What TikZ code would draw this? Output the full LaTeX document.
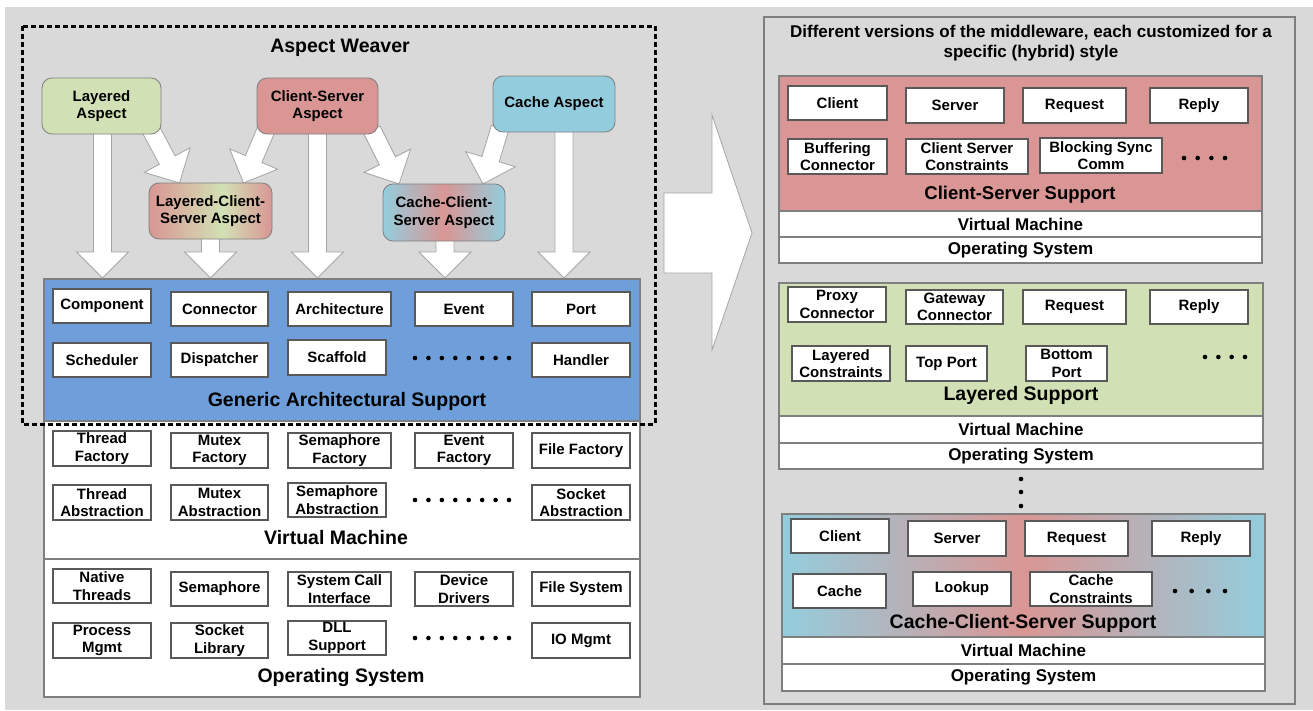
\documentclass[tikz,border=0pt]{standalone}
\usepackage{fontspec}
\setmainfont{Liberation Sans}
\usetikzlibrary{calc}
\definecolor{bg}{HTML}{D9D9D9}
\definecolor{lgreen}{HTML}{D2E1B5}
\definecolor{lred}{HTML}{D99694}
\definecolor{lblue}{HTML}{93CDDD}
\definecolor{gblue}{HTML}{6E9FDA}
\definecolor{edge}{HTML}{595959}
\definecolor{pedge}{HTML}{7F7F7F}
\pgfdeclarehorizontalshading{lcsshade}{100bp}{color(0bp)=(lred); color(25bp)=(lred); color(55bp)=(lgreen); color(75bp)=(lred); color(100bp)=(lred)}
\pgfdeclarehorizontalshading{ccsshade}{100bp}{color(0bp)=(lblue); color(25bp)=(lblue); color(50bp)=(lred); color(75bp)=(lblue); color(100bp)=(lblue)}
\tikzset{
 txt/.style={font=\fontsize{15}{17.5}\selectfont\bfseries, align=center},
 wbox/.style={txt, draw=edge, line width=1.3pt, fill=white, inner sep=0pt, outer sep=0pt},
 abox/.style={txt, draw=pedge, line width=0.8pt, rounded corners=10pt, inner sep=0pt, outer sep=0pt},
 panel/.style={draw=pedge, line width=1.5pt, inner sep=0pt, outer sep=0pt, font=\fontsize{17}{20}\selectfont\bfseries},
 bigtxt/.style={font=\fontsize{19.5}{22}\selectfont\bfseries, inner sep=0pt},
 midtxt/.style={font=\fontsize{17}{20.5}\selectfont\bfseries, align=center, inner sep=0pt},
 barrow/.style={draw=pedge!70, fill=white, line width=0.8pt, line join=miter},
 dotfill/.style={fill=black},
}
\newcommand\bx[7][wbox]{\node[#1, minimum width={#5-#3}, minimum height={#6-#4}] (#2) at ({(#3+#5)/2},{(#4+#6)/2}) {#7};}
\newcommand\dotrow[4]{\foreach \i in {1,...,#4} {\fill[dotfill] ({#1+(\i-1)*(#2-#1)/(#4-1)},#3) circle (2.3pt);}}
\newcommand\blockarr[2]{%
 \coordinate (ba-s) at #1; \coordinate (ba-t) at #2;
 \coordinate (ba-h) at ($(ba-t)!26pt!(ba-s)$);
 \draw[barrow] ($(ba-s)!9pt!90:(ba-t)$) -- ($(ba-h)!9pt!90:(ba-t)$) -- ($(ba-h)!26pt!90:(ba-t)$) -- (ba-t) -- ($(ba-h)!26pt!-90:(ba-t)$) -- ($(ba-h)!9pt!-90:(ba-t)$) -- ($(ba-s)!9pt!-90:(ba-t)$) -- cycle;}
\begin{document}
\begin{tikzpicture}[x=1pt,y=-1pt]
\useasboundingbox (0,0) rectangle (1313,710);
\fill[white] (0,0) rectangle (1313,710);
\fill[bg] (5,7) rectangle (1313,710);

% ---------------- left: panels ----------------
\bx[panel,fill=gblue]{gas}{44}{279}{640}{421}{}
\bx[panel,fill=white]{vm}{44}{421}{640}{559}{}
\bx[panel,fill=white]{os}{44}{559}{640}{697}{}
\node[bigtxt] (gast) at (347,401) {Generic Architectural Support};
\node[bigtxt] (vmt) at (336,538) {Virtual Machine};
\node[bigtxt] (ost) at (341,677) {Operating System};
\node[bigtxt] (awt) at (340,48) {Aspect Weaver};

% generic architectural support
\bx{comp}{53}{289}{151}{323}{Component}
\bx{conn}{171}{292}{268}{326}{Connector}
\bx{arch}{288}{292}{391}{326}{Architecture}
\bx{evt}{415}{292}{513}{326}{Event}
\bx{port}{532}{292}{630}{326}{Port}
\bx{sched}{53}{343}{151}{377}{Scheduler}
\bx{disp}{171}{343}{268}{377}{Dispatcher}
\bx{scaf}{288}{340}{386}{375}{Scaffold}
\dotrow{415}{509}{358}{8}
\bx{hand}{532}{343}{630}{377}{Handler}

% virtual machine
\bx{tf}{53}{431}{151}{466}{Thread\\Factory}
\bx{mf}{171}{433}{268}{468}{Mutex\\Factory}
\bx{sf}{288}{433}{391}{468}{Semaphore\\Factory}
\bx{ef}{415}{433}{513}{468}{Event\\Factory}
\bx{ff}{532}{433}{630}{468}{File Factory}
\bx{ta}{53}{485}{151}{520}{Thread\\Abstraction}
\bx{ma}{171}{485}{268}{520}{Mutex\\Abstraction}
\bx{sa}{288}{483}{386}{517}{Semaphore\\Abstraction}
\dotrow{415}{509}{500}{8}
\bx{soa}{532}{485}{630}{520}{Socket\\Abstraction}

% operating system
\bx{nt}{53}{569}{151}{603}{Native\\Threads}
\bx{sem}{171}{572}{268}{606}{Semaphore}
\bx{sci}{288}{572}{391}{606}{System Call\\Interface}
\bx{dd}{415}{572}{513}{606}{Device\\Drivers}
\bx{fs}{532}{572}{630}{606}{File System}
\bx{pm}{53}{623}{151}{658}{Process\\Mgmt}
\bx{sl}{171}{623}{268}{658}{Socket\\Library}
\bx{dll}{288}{621}{386}{655}{DLL\\Support}
\dotrow{415}{509}{638}{8}
\bx{io}{532}{623}{630}{658}{IO Mgmt}

% aspect box outlines as named anchors (invisible), real boxes drawn after arrows
\bx[abox,draw=none,fill=none]{la}{42}{78}{161}{134}{}
\bx[abox,draw=none,fill=none]{cs}{257}{78}{378}{134}{}
\bx[abox,draw=none,fill=none]{ca}{493}{76}{615}{132}{}
\bx[abox,draw=none,fill=none]{lcs}{149}{183}{272}{239}{}
\bx[abox,draw=none,fill=none]{ccs}{383}{184}{505}{241}{}

% block arrows
\blockarr{($(la.south)+(1,-6)$)}{($(la.south |- gas.north)+(1,-1)$)}
\blockarr{($(lcs.south)+(0,-6)$)}{($(lcs.south |- gas.north)+(0,-1)$)}
\blockarr{($(cs.south)+(0,-6)$)}{($(cs.south |- gas.north)+(0,-1)$)}
\blockarr{($(ccs.south)+(1,-6)$)}{($(ccs.south |- gas.north)+(1,-1)$)}
\blockarr{($(ca.south)+(10,-6)$)}{($(ca.south |- gas.north)+(10,-1)$)}
\blockarr{($(la.south east)+(-11,-6)$)}{($(lcs.north)+(-31,0)$)}
\blockarr{($(cs.south west)+(9,-4)$)}{($(lcs.north)+(33,0)$)}
\blockarr{($(cs.south east)+(-6,-4)$)}{($(ccs.north)+(-45,0)$)}
\blockarr{($(ca.south west)+(7,-4)$)}{($(ccs.north)+(39,0)$)}

% aspect boxes drawn on top
\bx[abox,fill=lgreen]{lab}{42}{78}{161}{134}{Layered\\Aspect}
\bx[abox,fill=lred]{csb}{257}{78}{378}{134}{Client-Server\\Aspect}
\bx[abox,fill=lblue]{cab}{493}{76}{615}{132}{Cache Aspect}
\bx[abox,shading=lcsshade]{lcsb}{149}{183}{272}{239}{Layered-Client-\\Server Aspect}
\bx[abox,shading=ccsshade]{ccsb}{383}{184}{505}{241}{Cache-Client-\\Server Aspect}

% dashed aspect weaver frame
\draw[line width=3pt, dash pattern=on 5pt off 3pt] (22,26) rectangle (655,424);

% big arrow
\draw[barrow] (664,193) -- (712,193) -- (712,115) -- (752,233) -- (712,350) -- (712,273) -- (664,273) -- cycle;

% ---------------- right side ----------------
\bx[panel,fill=none]{rp}{764}{17}{1295}{704}{}
\node[midtxt] (rpt) at (1031,43) {Different versions of the middleware, each customized for a\\specific (hybrid) style};

% client-server
\bx[panel,fill=lred]{csp}{779}{76}{1262}{211}{}
\bx[panel,fill=white]{csvm}{779}{211}{1262}{237}{Virtual Machine}
\bx[panel,fill=white]{csos}{779}{237}{1262}{263}{Operating System}
\node[bigtxt,font=\fontsize{18.5}{22}\selectfont\bfseries] (cspt) at (1020,195) {Client-Server Support};
\bx{c1}{788}{86}{887}{120}{Client}
\bx{c2}{906}{88}{1004}{123}{Server}
\bx{c3}{1023}{88}{1126}{123}{Request}
\bx{c4}{1150}{88}{1248}{123}{Reply}
\bx{c5}{788}{139}{887}{174}{Buffering\\Connector}
\bx{c6}{906}{139}{1028}{174}{Client Server\\Constraints}
\bx{c7}{1040}{138}{1162}{173}{Blocking Sync\\Comm}
\dotrow{1184}{1225}{158}{4}

% layered
\bx[panel,fill=lgreen]{lsp}{779}{283}{1263}{416}{}
\bx[panel,fill=white]{lsvm}{779}{416}{1263}{443}{Virtual Machine}
\bx[panel,fill=white]{lsos}{779}{443}{1263}{469}{Operating System}
\node[bigtxt] (lspt) at (1021,395) {Layered Support};
\bx{l1}{788}{287}{886}{322}{Proxy\\Connector}
\bx{l2}{906}{290}{1003}{324}{Gateway\\Connector}
\bx{l3}{1023}{290}{1126}{324}{Request}
\bx{l4}{1150}{290}{1248}{324}{Reply}
\bx{l5}{792}{346}{890}{381}{Layered\\Constraints}
\bx{l6}{906}{346}{987}{381}{Top Port}
\bx{l7}{1026}{346}{1107}{381}{Bottom\\Port}
\dotrow{1205}{1245}{357}{4}
\foreach \yy in {479,492,506} {\fill[dotfill] (1021,\yy) circle (2.3pt);}

% cache-client-server
\bx[panel,shading=ccsshade]{ccp}{782}{514}{1265}{637}{}
\bx[panel,fill=white]{ccvm}{782}{637}{1265}{664}{Virtual Machine}
\bx[panel,fill=white]{ccos}{782}{664}{1265}{691}{Operating System}
\node[bigtxt] (ccpt) at (1023,623) {Cache-Client-Server Support};
\bx{k1}{791}{519}{889}{553}{Client}
\bx{k2}{908}{521}{1006}{556}{Server}
\bx{k3}{1025}{521}{1128}{556}{Request}
\bx{k4}{1152}{521}{1250}{556}{Reply}
\bx{k5}{793}{574}{886}{608}{Cache}
\bx{k6}{913}{572}{1011}{606}{Lookup}
\bx{k7}{1030}{572}{1152}{606}{Cache\\Constraints}
\dotrow{1175}{1225}{591}{4}
\end{tikzpicture}
\end{document}
